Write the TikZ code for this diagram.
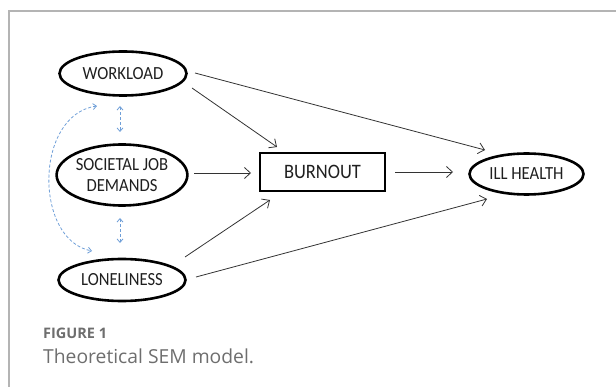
\documentclass[tikz,border=0pt]{standalone}
\usepackage{fontspec}
\setmainfont{Carlito}
\newfontfamily\capfont{Open Sans}
\usetikzlibrary{arrows.meta,shapes.geometric}
\definecolor{framegray}{HTML}{B4B4B4}
\definecolor{capgray}{HTML}{6E6E6E}
\definecolor{arrgray}{HTML}{333333}
\definecolor{dashblue}{HTML}{6F9FD8}
\newcommand{\lbl}[1]{\scalebox{0.9}[1]{#1}}
\tikzset{
  latent/.style={ellipse, draw=black, line width=2.6pt, inner sep=0pt,
    font=\fontsize{18.5}{21}\selectfont, text=black!88, align=center},
  boxnode/.style={rectangle, draw=black, line width=2.4pt, inner sep=0pt,
    minimum width=125pt, minimum height=38pt, font=\fontsize{20.5}{24}\selectfont, text=black!88},
  path arrow/.style={draw=arrgray, line width=0.8pt, -{Straight Barb[length=6pt,width=11pt]}},
  cov arrow/.style={draw=dashblue, line width=0.8pt, dash pattern=on 3pt off 2pt,
    {Straight Barb[length=3.5pt,width=6pt]}-{Straight Barb[length=3.5pt,width=6pt]}},
}
\begin{document}
\begin{tikzpicture}[x=1pt,y=-1pt]
\useasboundingbox (0,0) rectangle (616,387);
% frame
\draw[framegray, line width=1.2pt] (616,11) -- (9,11) -- (9,387);
% nodes
\node[latent, minimum width=127pt, minimum height=44pt] (w) at (123,73.5) {\lbl{WORKLOAD}};
\node[latent, minimum width=123pt, minimum height=61pt] (s) at (122,175) {\lbl{SOCIETAL JOB}\\\lbl{DEMANDS}};
\node[latent, minimum width=127pt, minimum height=42pt] (l) at (122,280) {\lbl{LONELINESS}};
\node[boxnode] (b) at (322.5,172) {\lbl{BURNOUT}};
\node[latent, minimum width=114pt, minimum height=41pt] (i) at (526.5,174) {\lbl{ILL HEALTH}};
% structural paths
\draw[path arrow] ([shift={(69,14.5)}]w.center) -- ([shift={(-45.5,-25)}]b.center);
\draw[path arrow] ([shift={(72,-0.5)}]w.center) -- ([shift={(-41.5,-24)}]i.center);
\draw[path arrow] ([shift={(72,-2)}]s.center) -- ([shift={(-71.5,1)}]b.center);
\draw[path arrow] ([shift={(72.5,0)}]b.center) -- ([shift={(-73.5,-2)}]i.center);
\draw[path arrow] ([shift={(63,-23)}]l.center) -- ([shift={(-52.5,28)}]b.center);
\draw[path arrow] ([shift={(74,-3)}]l.center) -- ([shift={(-39.5,25)}]i.center);
% covariances
\draw[cov arrow] ([shift={(-3,32.5)}]w.center) -- ([shift={(-2,-43)}]s.center);
\draw[cov arrow] ([shift={(-2,43)}]s.center) -- ([shift={(-2,-37)}]l.center);
\draw[cov arrow] ([shift={(-26,32.5)}]w.center) .. controls (34,115) and (34,240) .. ([shift={(-30,-29)}]l.center);
% caption
\node[anchor=base west, inner sep=0pt, text=capgray, font=\capfont\bfseries\fontsize{14.5}{17}\selectfont] (cap1) at (43,339) {FIGURE 1};
\node[anchor=base west, inner sep=0pt, text=capgray, font=\capfont\fontsize{19.3}{23}\selectfont] (cap2) at (43,363) {Theoretical SEM model.};
\end{tikzpicture}
\end{document}
